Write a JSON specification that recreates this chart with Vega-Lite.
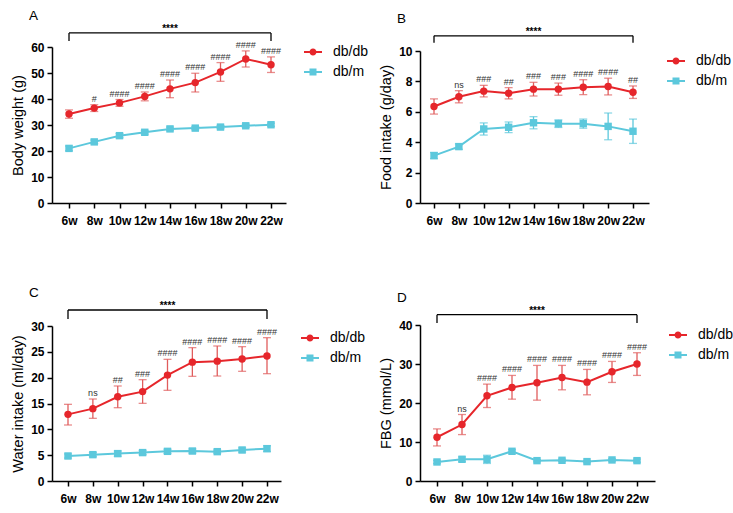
{
  "$schema": "https://vega.github.io/schema/vega-lite/v6.json",
  "background": "white",
  "padding": {"left": 10, "top": 9, "right": 0, "bottom": 0},
  "config": {
    "view": {"stroke": null},
    "font": "Liberation Sans",
    "axis": {"grid": false, "domainColor": "black", "domainWidth": 1.5, "tickColor": "black", "tickWidth": 1.5, "tickSize": 5, "labelFont": "Liberation Sans", "labelFontWeight": "bold", "labelFontSize": 12, "labelColor": "black", "labelPadding": 3, "labelOverlap": false, "titleFont": "Liberation Sans", "titleFontWeight": "normal", "titleFontSize": 14.5, "titleColor": "black"},
    "axisX": {"labelPadding": 7, "labelFontSize": 12},
    "axisY": {"titlePadding": 5},
    "legend": {"labelFont": "Liberation Sans", "labelFontSize": 14, "labelColor": "black", "rowPadding": 6, "labelOffset": 13, "symbolSize": 100, "padding": 0, "orient": "none", "symbolStrokeWidth": 0},
    "title": {"font": "Liberation Sans", "fontSize": 13.5, "fontWeight": "normal", "color": "black", "anchor": "start", "frame": "group", "dx": -23, "offset": 1},
    "text": {"font": "Liberation Sans", "color": "black"}
  },
  "datasets": {
    "pts": [
      {"panel": "A", "group": "db/db", "week": 6, "mean": 34.2, "lo": 32.6, "hi": 35.8, "sig": ""},
      {"panel": "A", "group": "db/db", "week": 8, "mean": 36.5, "lo": 35.2, "hi": 37.8, "sig": "#"},
      {"panel": "A", "group": "db/db", "week": 10, "mean": 38.5, "lo": 37.2, "hi": 39.8, "sig": "####"},
      {"panel": "A", "group": "db/db", "week": 12, "mean": 41.0, "lo": 39.3, "hi": 42.7, "sig": "####"},
      {"panel": "A", "group": "db/db", "week": 14, "mean": 43.9, "lo": 40.5, "hi": 47.3, "sig": "####"},
      {"panel": "A", "group": "db/db", "week": 16, "mean": 46.3, "lo": 42.7, "hi": 49.9, "sig": "####"},
      {"panel": "A", "group": "db/db", "week": 18, "mean": 50.4, "lo": 46.8, "hi": 54.0, "sig": "####"},
      {"panel": "A", "group": "db/db", "week": 20, "mean": 55.4, "lo": 52.3, "hi": 58.5, "sig": "####"},
      {"panel": "A", "group": "db/db", "week": 22, "mean": 53.2, "lo": 50.2, "hi": 56.2, "sig": "####"},
      {"panel": "A", "group": "db/m", "week": 6, "mean": 21.0, "lo": 20.1, "hi": 21.9, "sig": ""},
      {"panel": "A", "group": "db/m", "week": 8, "mean": 23.5, "lo": 22.8, "hi": 24.2, "sig": ""},
      {"panel": "A", "group": "db/m", "week": 10, "mean": 25.9, "lo": 25.1, "hi": 26.7, "sig": ""},
      {"panel": "A", "group": "db/m", "week": 12, "mean": 27.2, "lo": 26.5, "hi": 27.9, "sig": ""},
      {"panel": "A", "group": "db/m", "week": 14, "mean": 28.5, "lo": 27.8, "hi": 29.2, "sig": ""},
      {"panel": "A", "group": "db/m", "week": 16, "mean": 28.8, "lo": 28.2, "hi": 29.4, "sig": ""},
      {"panel": "A", "group": "db/m", "week": 18, "mean": 29.2, "lo": 28.6, "hi": 29.8, "sig": ""},
      {"panel": "A", "group": "db/m", "week": 20, "mean": 29.7, "lo": 29.1, "hi": 30.3, "sig": ""},
      {"panel": "A", "group": "db/m", "week": 22, "mean": 30.1, "lo": 29.5, "hi": 30.7, "sig": ""},

      {"panel": "B", "group": "db/db", "week": 6, "mean": 6.35, "lo": 5.85, "hi": 6.85, "sig": ""},
      {"panel": "B", "group": "db/db", "week": 8, "mean": 6.99, "lo": 6.59, "hi": 7.39, "sig": "ns"},
      {"panel": "B", "group": "db/db", "week": 10, "mean": 7.36, "lo": 6.98, "hi": 7.74, "sig": "###"},
      {"panel": "B", "group": "db/db", "week": 12, "mean": 7.22, "lo": 6.85, "hi": 7.59, "sig": "##"},
      {"panel": "B", "group": "db/db", "week": 14, "mean": 7.49, "lo": 7.04, "hi": 7.94, "sig": "###"},
      {"panel": "B", "group": "db/db", "week": 16, "mean": 7.49, "lo": 7.09, "hi": 7.89, "sig": "###"},
      {"panel": "B", "group": "db/db", "week": 18, "mean": 7.62, "lo": 7.13, "hi": 8.11, "sig": "####"},
      {"panel": "B", "group": "db/db", "week": 20, "mean": 7.66, "lo": 7.11, "hi": 8.21, "sig": "####"},
      {"panel": "B", "group": "db/db", "week": 22, "mean": 7.29, "lo": 6.88, "hi": 7.7, "sig": "##"},
      {"panel": "B", "group": "db/m", "week": 6, "mean": 3.12, "lo": 2.92, "hi": 3.32, "sig": ""},
      {"panel": "B", "group": "db/m", "week": 8, "mean": 3.71, "lo": 3.53, "hi": 3.89, "sig": ""},
      {"panel": "B", "group": "db/m", "week": 10, "mean": 4.87, "lo": 4.47, "hi": 5.27, "sig": ""},
      {"panel": "B", "group": "db/m", "week": 12, "mean": 4.98, "lo": 4.63, "hi": 5.33, "sig": ""},
      {"panel": "B", "group": "db/m", "week": 14, "mean": 5.28, "lo": 4.88, "hi": 5.68, "sig": ""},
      {"panel": "B", "group": "db/m", "week": 16, "mean": 5.22, "lo": 4.97, "hi": 5.47, "sig": ""},
      {"panel": "B", "group": "db/m", "week": 18, "mean": 5.22, "lo": 4.92, "hi": 5.52, "sig": ""},
      {"panel": "B", "group": "db/m", "week": 20, "mean": 5.04, "lo": 4.16, "hi": 5.92, "sig": ""},
      {"panel": "B", "group": "db/m", "week": 22, "mean": 4.72, "lo": 3.92, "hi": 5.52, "sig": ""},

      {"panel": "C", "group": "db/db", "week": 6, "mean": 12.9, "lo": 10.84, "hi": 14.84, "sig": ""},
      {"panel": "C", "group": "db/db", "week": 8, "mean": 14.0, "lo": 12.13, "hi": 15.87, "sig": "ns"},
      {"panel": "C", "group": "db/db", "week": 10, "mean": 16.3, "lo": 14.19, "hi": 18.39, "sig": "##"},
      {"panel": "C", "group": "db/db", "week": 12, "mean": 17.3, "lo": 15.03, "hi": 19.61, "sig": "###"},
      {"panel": "C", "group": "db/db", "week": 14, "mean": 20.5, "lo": 17.55, "hi": 23.55, "sig": "####"},
      {"panel": "C", "group": "db/db", "week": 16, "mean": 23.0, "lo": 20.26, "hi": 25.81, "sig": "####"},
      {"panel": "C", "group": "db/db", "week": 18, "mean": 23.2, "lo": 20.32, "hi": 26.13, "sig": "####"},
      {"panel": "C", "group": "db/db", "week": 20, "mean": 23.6, "lo": 21.23, "hi": 26.0, "sig": "####"},
      {"panel": "C", "group": "db/db", "week": 22, "mean": 24.2, "lo": 20.77, "hi": 27.74, "sig": "####"},
      {"panel": "C", "group": "db/m", "week": 6, "mean": 4.84, "lo": 4.44, "hi": 5.24, "sig": ""},
      {"panel": "C", "group": "db/m", "week": 8, "mean": 5.1, "lo": 4.7, "hi": 5.5, "sig": ""},
      {"panel": "C", "group": "db/m", "week": 10, "mean": 5.3, "lo": 4.8, "hi": 5.8, "sig": ""},
      {"panel": "C", "group": "db/m", "week": 12, "mean": 5.5, "lo": 5.1, "hi": 5.9, "sig": ""},
      {"panel": "C", "group": "db/m", "week": 14, "mean": 5.74, "lo": 5.34, "hi": 6.14, "sig": ""},
      {"panel": "C", "group": "db/m", "week": 16, "mean": 5.8, "lo": 5.4, "hi": 6.2, "sig": ""},
      {"panel": "C", "group": "db/m", "week": 18, "mean": 5.68, "lo": 5.38, "hi": 5.98, "sig": ""},
      {"panel": "C", "group": "db/m", "week": 20, "mean": 6.0, "lo": 5.6, "hi": 6.4, "sig": ""},
      {"panel": "C", "group": "db/m", "week": 22, "mean": 6.26, "lo": 5.71, "hi": 6.81, "sig": ""},

      {"panel": "D", "group": "db/db", "week": 6, "mean": 11.22, "lo": 8.99, "hi": 13.36, "sig": ""},
      {"panel": "D", "group": "db/db", "week": 8, "mean": 14.48, "lo": 11.9, "hi": 17.05, "sig": "ns"},
      {"panel": "D", "group": "db/db", "week": 10, "mean": 21.84, "lo": 18.84, "hi": 24.84, "sig": "####"},
      {"panel": "D", "group": "db/db", "week": 12, "mean": 23.98, "lo": 20.99, "hi": 27.07, "sig": "####"},
      {"panel": "D", "group": "db/db", "week": 14, "mean": 25.18, "lo": 20.73, "hi": 29.64, "sig": "####"},
      {"panel": "D", "group": "db/db", "week": 16, "mean": 26.55, "lo": 23.38, "hi": 29.64, "sig": "####"},
      {"panel": "D", "group": "db/db", "week": 18, "mean": 25.35, "lo": 22.1, "hi": 28.61, "sig": "####"},
      {"panel": "D", "group": "db/db", "week": 20, "mean": 28.0, "lo": 25.27, "hi": 30.66, "sig": "####"},
      {"panel": "D", "group": "db/db", "week": 22, "mean": 29.98, "lo": 27.07, "hi": 32.89, "sig": "####"},
      {"panel": "D", "group": "db/m", "week": 6, "mean": 4.88, "lo": 4.48, "hi": 5.28, "sig": ""},
      {"panel": "D", "group": "db/m", "week": 8, "mean": 5.57, "lo": 4.97, "hi": 6.17, "sig": ""},
      {"panel": "D", "group": "db/m", "week": 10, "mean": 5.57, "lo": 4.5, "hi": 6.6, "sig": ""},
      {"panel": "D", "group": "db/m", "week": 12, "mean": 7.62, "lo": 7.22, "hi": 8.02, "sig": ""},
      {"panel": "D", "group": "db/m", "week": 14, "mean": 5.22, "lo": 4.92, "hi": 5.52, "sig": ""},
      {"panel": "D", "group": "db/m", "week": 16, "mean": 5.31, "lo": 5.01, "hi": 5.61, "sig": ""},
      {"panel": "D", "group": "db/m", "week": 18, "mean": 4.97, "lo": 4.67, "hi": 5.27, "sig": ""},
      {"panel": "D", "group": "db/m", "week": 20, "mean": 5.4, "lo": 5.1, "hi": 5.7, "sig": ""},
      {"panel": "D", "group": "db/m", "week": 22, "mean": 5.22, "lo": 4.82, "hi": 5.62, "sig": ""}
    ],
    "groups": [{"group": "db/db"}, {"group": "db/m"}]
  },
  "columns": 2,
  "bounds": "flush",
  "spacing": {"row": 122, "column": 134},
  "resolve": {"scale": {"color": "independent", "shape": "independent"}, "legend": {"color": "independent", "shape": "independent"}},
  "concat": [
    {
      "width": 234, "height": 156,
      "title": {"text": "A"},
      "resolve": {"scale": {"color": "independent", "shape": "independent"}, "legend": {"color": "independent", "shape": "independent"}},
      "layer": [
        {
          "data": {"name": "pts"},
          "transform": [{"filter": "datum.panel === 'A'"}],
          "encoding": {
            "x": {"field": "week", "type": "quantitative", "scale": {"domain": [4.653, 23.188], "nice": false, "zero": false}, "axis": {"values": [6, 8, 10, 12, 14, 16, 18, 20, 22], "labelExpr": "datum.value + 'w'", "title": null, "labelOverlap": false}}
          },
          "layer": [
            {"mark": {"type": "rule", "strokeWidth": 1.3}, "encoding": {"y": {"field": "lo", "type": "quantitative", "scale": {"domain": [0, 60], "nice": false}, "axis": {"values": [0, 10, 20, 30, 40, 50, 60], "title": "Body weight (g)", "labelOverlap": false}}, "y2": {"field": "hi"}, "color": {"condition": {"test": "datum.group === 'db/db'", "value": "#e05c5c"}, "value": "#5cc8dc"}}},
            {"mark": {"type": "tick", "orient": "horizontal", "size": 8, "thickness": 1.3}, "encoding": {"y": {"field": "lo", "type": "quantitative", "axis": {"values": [0, 10, 20, 30, 40, 50, 60], "title": "Body weight (g)", "labelOverlap": false}}, "color": {"condition": {"test": "datum.group === 'db/db'", "value": "#e05c5c"}, "value": "#5cc8dc"}}},
            {"mark": {"type": "tick", "orient": "horizontal", "size": 8, "thickness": 1.3}, "encoding": {"y": {"field": "hi", "type": "quantitative", "axis": {"values": [0, 10, 20, 30, 40, 50, 60], "title": "Body weight (g)", "labelOverlap": false}}, "color": {"condition": {"test": "datum.group === 'db/db'", "value": "#e05c5c"}, "value": "#5cc8dc"}}},
            {"mark": {"type": "line", "strokeWidth": 2}, "encoding": {"y": {"field": "mean", "type": "quantitative", "axis": {"values": [0, 10, 20, 30, 40, 50, 60], "title": "Body weight (g)", "labelOverlap": false}}, "detail": {"field": "group"}, "color": {"condition": {"test": "datum.group === 'db/db'", "value": "#e6262b"}, "value": "#5cc8dc"}}},
            {"mark": {"type": "point", "filled": true, "opacity": 1, "size": 55}, "encoding": {"y": {"field": "mean", "type": "quantitative", "axis": {"values": [0, 10, 20, 30, 40, 50, 60], "title": "Body weight (g)", "labelOverlap": false}},
              "color": {"field": "group", "type": "nominal", "scale": {"domain": ["db/db", "db/m"], "range": ["#e6262b", "#5cc8dc"]}, "legend": null},
              "shape": {"field": "group", "type": "nominal", "scale": {"domain": ["db/db", "db/m"], "range": ["circle", "square"]}, "legend": null}}},
            {"mark": {"type": "text", "baseline": "bottom", "dy": -1, "fontSize": 9, "color": "#333333"}, "transform": [{"filter": "datum.sig !== ''"}], "encoding": {"y": {"field": "hi", "type": "quantitative", "axis": {"values": [0, 10, 20, 30, 40, 50, 60], "title": "Body weight (g)", "labelOverlap": false}}, "text": {"field": "sig"}}}
          ]
        },
        {"data": {"values": [{}]}, "mark": {"type": "rule", "strokeWidth": 1.3, "color": "black"}, "encoding": {"x": {"datum": 6, "type": "quantitative", "axis": {"values": [6, 8, 10, 12, 14, 16, 18, 20, 22], "labelExpr": "datum.value + 'w'", "title": null, "labelOverlap": false}}, "x2": {"datum": 22}, "y": {"datum": 65.4, "type": "quantitative", "axis": {"values": [0, 10, 20, 30, 40, 50, 60], "title": "Body weight (g)", "labelOverlap": false}}}},
        {"data": {"values": [{}]}, "mark": {"type": "rule", "strokeWidth": 1.3, "color": "black"}, "encoding": {"x": {"datum": 6, "type": "quantitative", "axis": {"values": [6, 8, 10, 12, 14, 16, 18, 20, 22], "labelExpr": "datum.value + 'w'", "title": null, "labelOverlap": false}}, "y": {"datum": 65.4, "type": "quantitative", "axis": {"values": [0, 10, 20, 30, 40, 50, 60], "title": "Body weight (g)", "labelOverlap": false}}, "y2": {"datum": 62.3}}},
        {"data": {"values": [{}]}, "mark": {"type": "rule", "strokeWidth": 1.3, "color": "black"}, "encoding": {"x": {"datum": 22, "type": "quantitative", "axis": {"values": [6, 8, 10, 12, 14, 16, 18, 20, 22], "labelExpr": "datum.value + 'w'", "title": null, "labelOverlap": false}}, "y": {"datum": 65.4, "type": "quantitative", "axis": {"values": [0, 10, 20, 30, 40, 50, 60], "title": "Body weight (g)", "labelOverlap": false}}, "y2": {"datum": 62.3}}},
        {"data": {"values": [{}]}, "mark": {"type": "text", "text": "****", "fontSize": 10, "fontWeight": "bold", "baseline": "alphabetic", "dy": -1, "color": "black"}, "encoding": {"x": {"datum": 14, "type": "quantitative", "axis": {"values": [6, 8, 10, 12, 14, 16, 18, 20, 22], "labelExpr": "datum.value + 'w'", "title": null, "labelOverlap": false}}, "y": {"datum": 65.4, "type": "quantitative", "axis": {"values": [0, 10, 20, 30, 40, 50, 60], "title": "Body weight (g)", "labelOverlap": false}}}},
        {"data": {"name": "groups"}, "transform": [{"filter": "false"}], "mark": {"type": "point", "filled": true, "opacity": 1},
          "encoding": {
            "color": {"field": "group", "type": "nominal", "scale": {"domain": ["db/db", "db/m"], "range": ["#e6262b", "#5cc8dc"]}, "legend": {"title": null, "legendX": 254, "legendY": -2}},
            "shape": {"field": "group", "type": "nominal", "scale": {"domain": ["db/db", "db/m"], "range": ["M-1.8,-0.2H1.8V0.2H-1.8Z M-0.7,0A0.7,0.7 0 1,1 0.7,0A0.7,0.7 0 1,1 -0.7,0Z", "M-1.8,-0.2H1.8V0.2H-1.8Z M-0.7,-0.7H0.7V0.7H-0.7Z"]}, "legend": {"title": null, "legendX": 254, "legendY": -2}}
          }}
      ]
    },
    {
      "width": 229, "height": 156,
      "title": {"text": "B"},
      "resolve": {"scale": {"color": "independent", "shape": "independent"}, "legend": {"color": "independent", "shape": "independent"}},
      "layer": [
        {
          "data": {"name": "pts"},
          "transform": [{"filter": "datum.panel === 'B'"}],
          "encoding": {
            "x": {"field": "week", "type": "quantitative", "scale": {"domain": [4.874, 23.286], "nice": false, "zero": false}, "axis": {"values": [6, 8, 10, 12, 14, 16, 18, 20, 22], "labelExpr": "datum.value + 'w'", "title": null, "labelOverlap": false}}
          },
          "layer": [
            {"mark": {"type": "rule", "strokeWidth": 1.3}, "encoding": {"y": {"field": "lo", "type": "quantitative", "scale": {"domain": [0, 10], "nice": false, "range": [156, 4]}, "axis": {"values": [0, 2, 4, 6, 8, 10], "title": "Food intake (g/day)", "labelOverlap": false}}, "y2": {"field": "hi"}, "color": {"condition": {"test": "datum.group === 'db/db'", "value": "#e05c5c"}, "value": "#5cc8dc"}}},
            {"mark": {"type": "tick", "orient": "horizontal", "size": 8, "thickness": 1.3}, "encoding": {"y": {"field": "lo", "type": "quantitative", "axis": {"values": [0, 2, 4, 6, 8, 10], "title": "Food intake (g/day)", "labelOverlap": false}}, "color": {"condition": {"test": "datum.group === 'db/db'", "value": "#e05c5c"}, "value": "#5cc8dc"}}},
            {"mark": {"type": "tick", "orient": "horizontal", "size": 8, "thickness": 1.3}, "encoding": {"y": {"field": "hi", "type": "quantitative", "axis": {"values": [0, 2, 4, 6, 8, 10], "title": "Food intake (g/day)", "labelOverlap": false}}, "color": {"condition": {"test": "datum.group === 'db/db'", "value": "#e05c5c"}, "value": "#5cc8dc"}}},
            {"mark": {"type": "line", "strokeWidth": 2}, "encoding": {"y": {"field": "mean", "type": "quantitative", "axis": {"values": [0, 2, 4, 6, 8, 10], "title": "Food intake (g/day)", "labelOverlap": false}}, "detail": {"field": "group"}, "color": {"condition": {"test": "datum.group === 'db/db'", "value": "#e6262b"}, "value": "#5cc8dc"}}},
            {"mark": {"type": "point", "filled": true, "opacity": 1, "size": 55}, "encoding": {"y": {"field": "mean", "type": "quantitative", "axis": {"values": [0, 2, 4, 6, 8, 10], "title": "Food intake (g/day)", "labelOverlap": false}},
              "color": {"field": "group", "type": "nominal", "scale": {"domain": ["db/db", "db/m"], "range": ["#e6262b", "#5cc8dc"]}, "legend": null},
              "shape": {"field": "group", "type": "nominal", "scale": {"domain": ["db/db", "db/m"], "range": ["circle", "square"]}, "legend": null}}},
            {"mark": {"type": "text", "baseline": "bottom", "dy": -1, "fontSize": 9, "color": "#333333"}, "transform": [{"filter": "datum.sig !== ''"}], "encoding": {"y": {"field": "hi", "type": "quantitative", "axis": {"values": [0, 2, 4, 6, 8, 10], "title": "Food intake (g/day)", "labelOverlap": false}}, "text": {"field": "sig"}}}
          ]
        },
        {"data": {"values": [{}]}, "mark": {"type": "rule", "strokeWidth": 1.3, "color": "black"}, "encoding": {"x": {"datum": 6, "type": "quantitative", "axis": {"values": [6, 8, 10, 12, 14, 16, 18, 20, 22], "labelExpr": "datum.value + 'w'", "title": null, "labelOverlap": false}}, "x2": {"datum": 22}, "y": {"datum": 11.0, "type": "quantitative", "axis": {"values": [0, 2, 4, 6, 8, 10], "title": "Food intake (g/day)", "labelOverlap": false}}}},
        {"data": {"values": [{}]}, "mark": {"type": "rule", "strokeWidth": 1.3, "color": "black"}, "encoding": {"x": {"datum": 6, "type": "quantitative", "axis": {"values": [6, 8, 10, 12, 14, 16, 18, 20, 22], "labelExpr": "datum.value + 'w'", "title": null, "labelOverlap": false}}, "y": {"datum": 11.0, "type": "quantitative", "axis": {"values": [0, 2, 4, 6, 8, 10], "title": "Food intake (g/day)", "labelOverlap": false}}, "y2": {"datum": 10.55}}},
        {"data": {"values": [{}]}, "mark": {"type": "rule", "strokeWidth": 1.3, "color": "black"}, "encoding": {"x": {"datum": 22, "type": "quantitative", "axis": {"values": [6, 8, 10, 12, 14, 16, 18, 20, 22], "labelExpr": "datum.value + 'w'", "title": null, "labelOverlap": false}}, "y": {"datum": 11.0, "type": "quantitative", "axis": {"values": [0, 2, 4, 6, 8, 10], "title": "Food intake (g/day)", "labelOverlap": false}}, "y2": {"datum": 10.55}}},
        {"data": {"values": [{}]}, "mark": {"type": "text", "text": "****", "fontSize": 10, "fontWeight": "bold", "baseline": "alphabetic", "dy": -1, "color": "black"}, "encoding": {"x": {"datum": 14, "type": "quantitative", "axis": {"values": [6, 8, 10, 12, 14, 16, 18, 20, 22], "labelExpr": "datum.value + 'w'", "title": null, "labelOverlap": false}}, "y": {"datum": 11.0, "type": "quantitative", "axis": {"values": [0, 2, 4, 6, 8, 10], "title": "Food intake (g/day)", "labelOverlap": false}}}},
        {"data": {"name": "groups"}, "transform": [{"filter": "false"}], "mark": {"type": "point", "filled": true, "opacity": 1},
          "encoding": {
            "color": {"field": "group", "type": "nominal", "scale": {"domain": ["db/db", "db/m"], "range": ["#e6262b", "#5cc8dc"]}, "legend": {"title": null, "legendX": 249, "legendY": 7}},
            "shape": {"field": "group", "type": "nominal", "scale": {"domain": ["db/db", "db/m"], "range": ["M-1.8,-0.2H1.8V0.2H-1.8Z M-0.7,0A0.7,0.7 0 1,1 0.7,0A0.7,0.7 0 1,1 -0.7,0Z", "M-1.8,-0.2H1.8V0.2H-1.8Z M-0.7,-0.7H0.7V0.7H-0.7Z"]}, "legend": {"title": null, "legendX": 249, "legendY": 7}}
          }}
      ]
    },
    {
      "width": 229, "height": 156,
      "title": {"text": "C"},
      "resolve": {"scale": {"color": "independent", "shape": "independent"}, "legend": {"color": "independent", "shape": "independent"}},
      "layer": [
        {
          "data": {"name": "pts"},
          "transform": [{"filter": "datum.panel === 'C'"}],
          "encoding": {
            "x": {"field": "week", "type": "quantitative", "scale": {"domain": [4.714, 23.126], "nice": false, "zero": false}, "axis": {"values": [6, 8, 10, 12, 14, 16, 18, 20, 22], "labelExpr": "datum.value + 'w'", "title": null, "labelOverlap": false}}
          },
          "layer": [
            {"mark": {"type": "rule", "strokeWidth": 1.3}, "encoding": {"y": {"field": "lo", "type": "quantitative", "scale": {"domain": [0, 30], "nice": false, "range": [156, 1]}, "axis": {"values": [0, 5, 10, 15, 20, 25, 30], "title": "Water intake (ml/day)", "labelOverlap": false}}, "y2": {"field": "hi"}, "color": {"condition": {"test": "datum.group === 'db/db'", "value": "#e05c5c"}, "value": "#5cc8dc"}}},
            {"mark": {"type": "tick", "orient": "horizontal", "size": 8, "thickness": 1.3}, "encoding": {"y": {"field": "lo", "type": "quantitative", "axis": {"values": [0, 5, 10, 15, 20, 25, 30], "title": "Water intake (ml/day)", "labelOverlap": false}}, "color": {"condition": {"test": "datum.group === 'db/db'", "value": "#e05c5c"}, "value": "#5cc8dc"}}},
            {"mark": {"type": "tick", "orient": "horizontal", "size": 8, "thickness": 1.3}, "encoding": {"y": {"field": "hi", "type": "quantitative", "axis": {"values": [0, 5, 10, 15, 20, 25, 30], "title": "Water intake (ml/day)", "labelOverlap": false}}, "color": {"condition": {"test": "datum.group === 'db/db'", "value": "#e05c5c"}, "value": "#5cc8dc"}}},
            {"mark": {"type": "line", "strokeWidth": 2}, "encoding": {"y": {"field": "mean", "type": "quantitative", "axis": {"values": [0, 5, 10, 15, 20, 25, 30], "title": "Water intake (ml/day)", "labelOverlap": false}}, "detail": {"field": "group"}, "color": {"condition": {"test": "datum.group === 'db/db'", "value": "#e6262b"}, "value": "#5cc8dc"}}},
            {"mark": {"type": "point", "filled": true, "opacity": 1, "size": 55}, "encoding": {"y": {"field": "mean", "type": "quantitative", "axis": {"values": [0, 5, 10, 15, 20, 25, 30], "title": "Water intake (ml/day)", "labelOverlap": false}},
              "color": {"field": "group", "type": "nominal", "scale": {"domain": ["db/db", "db/m"], "range": ["#e6262b", "#5cc8dc"]}, "legend": null},
              "shape": {"field": "group", "type": "nominal", "scale": {"domain": ["db/db", "db/m"], "range": ["circle", "square"]}, "legend": null}}},
            {"mark": {"type": "text", "baseline": "bottom", "dy": -1, "fontSize": 9, "color": "#333333"}, "transform": [{"filter": "datum.sig !== ''"}], "encoding": {"y": {"field": "hi", "type": "quantitative", "axis": {"values": [0, 5, 10, 15, 20, 25, 30], "title": "Water intake (ml/day)", "labelOverlap": false}}, "text": {"field": "sig"}}}
          ]
        },
        {"data": {"values": [{}]}, "mark": {"type": "rule", "strokeWidth": 1.3, "color": "black"}, "encoding": {"x": {"datum": 6, "type": "quantitative", "axis": {"values": [6, 8, 10, 12, 14, 16, 18, 20, 22], "labelExpr": "datum.value + 'w'", "title": null, "labelOverlap": false}}, "x2": {"datum": 22}, "y": {"datum": 33.1, "type": "quantitative", "axis": {"values": [0, 5, 10, 15, 20, 25, 30], "title": "Water intake (ml/day)", "labelOverlap": false}}}},
        {"data": {"values": [{}]}, "mark": {"type": "rule", "strokeWidth": 1.3, "color": "black"}, "encoding": {"x": {"datum": 6, "type": "quantitative", "axis": {"values": [6, 8, 10, 12, 14, 16, 18, 20, 22], "labelExpr": "datum.value + 'w'", "title": null, "labelOverlap": false}}, "y": {"datum": 33.1, "type": "quantitative", "axis": {"values": [0, 5, 10, 15, 20, 25, 30], "title": "Water intake (ml/day)", "labelOverlap": false}}, "y2": {"datum": 31.35}}},
        {"data": {"values": [{}]}, "mark": {"type": "rule", "strokeWidth": 1.3, "color": "black"}, "encoding": {"x": {"datum": 22, "type": "quantitative", "axis": {"values": [6, 8, 10, 12, 14, 16, 18, 20, 22], "labelExpr": "datum.value + 'w'", "title": null, "labelOverlap": false}}, "y": {"datum": 33.1, "type": "quantitative", "axis": {"values": [0, 5, 10, 15, 20, 25, 30], "title": "Water intake (ml/day)", "labelOverlap": false}}, "y2": {"datum": 31.35}}},
        {"data": {"values": [{}]}, "mark": {"type": "text", "text": "****", "fontSize": 10, "fontWeight": "bold", "baseline": "alphabetic", "dy": -1, "color": "black"}, "encoding": {"x": {"datum": 14, "type": "quantitative", "axis": {"values": [6, 8, 10, 12, 14, 16, 18, 20, 22], "labelExpr": "datum.value + 'w'", "title": null, "labelOverlap": false}}, "y": {"datum": 33.1, "type": "quantitative", "axis": {"values": [0, 5, 10, 15, 20, 25, 30], "title": "Water intake (ml/day)", "labelOverlap": false}}}},
        {"data": {"name": "groups"}, "transform": [{"filter": "false"}], "mark": {"type": "point", "filled": true, "opacity": 1},
          "encoding": {
            "color": {"field": "group", "type": "nominal", "scale": {"domain": ["db/db", "db/m"], "range": ["#e6262b", "#5cc8dc"]}, "legend": {"title": null, "legendX": 251, "legendY": 6}},
            "shape": {"field": "group", "type": "nominal", "scale": {"domain": ["db/db", "db/m"], "range": ["M-1.8,-0.2H1.8V0.2H-1.8Z M-0.7,0A0.7,0.7 0 1,1 0.7,0A0.7,0.7 0 1,1 -0.7,0Z", "M-1.8,-0.2H1.8V0.2H-1.8Z M-0.7,-0.7H0.7V0.7H-0.7Z"]}, "legend": {"title": null, "legendX": 251, "legendY": 6}}
          }}
      ]
    },
    {
      "width": 235, "height": 156,
      "title": {"text": "D"},
      "resolve": {"scale": {"color": "independent", "shape": "independent"}, "legend": {"color": "independent", "shape": "independent"}},
      "layer": [
        {
          "data": {"name": "pts"},
          "transform": [{"filter": "datum.panel === 'D'"}],
          "encoding": {
            "x": {"field": "week", "type": "quantitative", "scale": {"domain": [4.64, 23.44], "nice": false, "zero": false}, "axis": {"values": [6, 8, 10, 12, 14, 16, 18, 20, 22], "labelExpr": "datum.value + 'w'", "title": null, "labelOverlap": false}}
          },
          "layer": [
            {"mark": {"type": "rule", "strokeWidth": 1.3}, "encoding": {"y": {"field": "lo", "type": "quantitative", "scale": {"domain": [0, 40], "nice": false}, "axis": {"values": [0, 10, 20, 30, 40], "title": "FBG (mmol/L)", "labelOverlap": false}}, "y2": {"field": "hi"}, "color": {"condition": {"test": "datum.group === 'db/db'", "value": "#e05c5c"}, "value": "#5cc8dc"}}},
            {"mark": {"type": "tick", "orient": "horizontal", "size": 8, "thickness": 1.3}, "encoding": {"y": {"field": "lo", "type": "quantitative", "axis": {"values": [0, 10, 20, 30, 40], "title": "FBG (mmol/L)", "labelOverlap": false}}, "color": {"condition": {"test": "datum.group === 'db/db'", "value": "#e05c5c"}, "value": "#5cc8dc"}}},
            {"mark": {"type": "tick", "orient": "horizontal", "size": 8, "thickness": 1.3}, "encoding": {"y": {"field": "hi", "type": "quantitative", "axis": {"values": [0, 10, 20, 30, 40], "title": "FBG (mmol/L)", "labelOverlap": false}}, "color": {"condition": {"test": "datum.group === 'db/db'", "value": "#e05c5c"}, "value": "#5cc8dc"}}},
            {"mark": {"type": "line", "strokeWidth": 2}, "encoding": {"y": {"field": "mean", "type": "quantitative", "axis": {"values": [0, 10, 20, 30, 40], "title": "FBG (mmol/L)", "labelOverlap": false}}, "detail": {"field": "group"}, "color": {"condition": {"test": "datum.group === 'db/db'", "value": "#e6262b"}, "value": "#5cc8dc"}}},
            {"mark": {"type": "point", "filled": true, "opacity": 1, "size": 55}, "encoding": {"y": {"field": "mean", "type": "quantitative", "axis": {"values": [0, 10, 20, 30, 40], "title": "FBG (mmol/L)", "labelOverlap": false}},
              "color": {"field": "group", "type": "nominal", "scale": {"domain": ["db/db", "db/m"], "range": ["#e6262b", "#5cc8dc"]}, "legend": null},
              "shape": {"field": "group", "type": "nominal", "scale": {"domain": ["db/db", "db/m"], "range": ["circle", "square"]}, "legend": null}}},
            {"mark": {"type": "text", "baseline": "bottom", "dy": -1, "fontSize": 9, "color": "#333333"}, "transform": [{"filter": "datum.sig !== ''"}], "encoding": {"y": {"field": "hi", "type": "quantitative", "axis": {"values": [0, 10, 20, 30, 40], "title": "FBG (mmol/L)", "labelOverlap": false}}, "text": {"field": "sig"}}}
          ]
        },
        {"data": {"values": [{}]}, "mark": {"type": "rule", "strokeWidth": 1.3, "color": "black"}, "encoding": {"x": {"datum": 6, "type": "quantitative", "axis": {"values": [6, 8, 10, 12, 14, 16, 18, 20, 22], "labelExpr": "datum.value + 'w'", "title": null, "labelOverlap": false}}, "x2": {"datum": 22}, "y": {"datum": 42.64, "type": "quantitative", "axis": {"values": [0, 10, 20, 30, 40], "title": "FBG (mmol/L)", "labelOverlap": false}}}},
        {"data": {"values": [{}]}, "mark": {"type": "rule", "strokeWidth": 1.3, "color": "black"}, "encoding": {"x": {"datum": 6, "type": "quantitative", "axis": {"values": [6, 8, 10, 12, 14, 16, 18, 20, 22], "labelExpr": "datum.value + 'w'", "title": null, "labelOverlap": false}}, "y": {"datum": 42.64, "type": "quantitative", "axis": {"values": [0, 10, 20, 30, 40], "title": "FBG (mmol/L)", "labelOverlap": false}}, "y2": {"datum": 40.5}}},
        {"data": {"values": [{}]}, "mark": {"type": "rule", "strokeWidth": 1.3, "color": "black"}, "encoding": {"x": {"datum": 22, "type": "quantitative", "axis": {"values": [6, 8, 10, 12, 14, 16, 18, 20, 22], "labelExpr": "datum.value + 'w'", "title": null, "labelOverlap": false}}, "y": {"datum": 42.64, "type": "quantitative", "axis": {"values": [0, 10, 20, 30, 40], "title": "FBG (mmol/L)", "labelOverlap": false}}, "y2": {"datum": 40.5}}},
        {"data": {"values": [{}]}, "mark": {"type": "text", "text": "****", "fontSize": 10, "fontWeight": "bold", "baseline": "alphabetic", "dy": -1, "color": "black"}, "encoding": {"x": {"datum": 14, "type": "quantitative", "axis": {"values": [6, 8, 10, 12, 14, 16, 18, 20, 22], "labelExpr": "datum.value + 'w'", "title": null, "labelOverlap": false}}, "y": {"datum": 42.64, "type": "quantitative", "axis": {"values": [0, 10, 20, 30, 40], "title": "FBG (mmol/L)", "labelOverlap": false}}}},
        {"data": {"name": "groups"}, "transform": [{"filter": "false"}], "mark": {"type": "point", "filled": true, "opacity": 1},
          "encoding": {
            "color": {"field": "group", "type": "nominal", "scale": {"domain": ["db/db", "db/m"], "range": ["#e6262b", "#5cc8dc"]}, "legend": {"title": null, "legendX": 251, "legendY": 3}},
            "shape": {"field": "group", "type": "nominal", "scale": {"domain": ["db/db", "db/m"], "range": ["M-1.8,-0.2H1.8V0.2H-1.8Z M-0.7,0A0.7,0.7 0 1,1 0.7,0A0.7,0.7 0 1,1 -0.7,0Z", "M-1.8,-0.2H1.8V0.2H-1.8Z M-0.7,-0.7H0.7V0.7H-0.7Z"]}, "legend": {"title": null, "legendX": 251, "legendY": 3}}
          }}
      ]
    }
  ]
}
